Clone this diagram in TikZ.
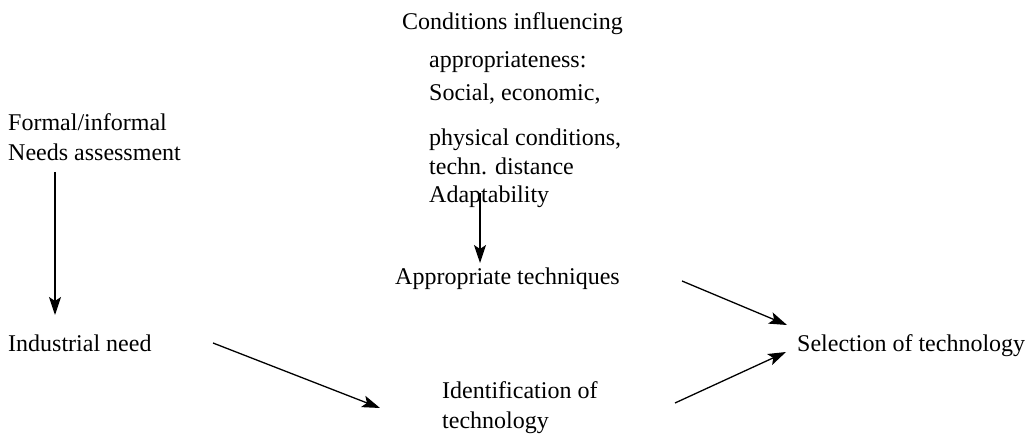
\documentclass[tikz,border=0pt]{standalone}
\usepackage{fontspec}
\setmainfont{Liberation Serif}
\usetikzlibrary{arrows.meta,calc}
\tikzset{
  lbl/.style={anchor=base west, inner sep=0pt, font=\fontsize{24}{28}\selectfont},
  arr/.style={line width=1.3pt, -{Stealth[length=18pt,width=12pt,inset=4pt]}}
}
\begin{document}
\begin{tikzpicture}[x=1pt,y=-1pt]
\useasboundingbox (0,0) rectangle (1032,435);
% left column
\node[lbl] (fi) at (8,131) {Formal/informal};
\node[lbl] (na) at (8,161) {Needs assessment};
\node[lbl] (ind) at (8,351) {Industrial need};
% conditions block
\node[lbl] (c0) at (402,30) {Conditions influencing};
\node[lbl] (c1) at (429,68) {appropriateness:};
\node[lbl] (c2) at (429,101) {Social, economic,};
\node[lbl] (c3) at (429,146) {physical conditions,};
\node[lbl] (c4) at (429,175) {techn. distance};
\node[lbl] (c5) at (429,203) {Adaptability};
\node[lbl] (apt) at (395,285) {Appropriate techniques};
\node[lbl] (id1) at (442,398) {Identification of};
\node[lbl] (id2) at (442,428) {technology};
\node[lbl] (sel) at (797,351) {Selection of technology};
% connector ends
\coordinate (naS) at ($(na.base west)+(47,11)$);
\coordinate (indN) at ($(ind.base west)+(47,-36)$);
\coordinate (c5S) at ($(c5.base west)+(51,-10)$);
\coordinate (aptN) at ($(apt.base west)+(85,-22)$);
\coordinate (indE) at ($(ind.base west)+(205,-8)$);
\coordinate (idW) at ($(id1.base west)+(-62,10)$);
\coordinate (aptE) at ($(apt.base west)+(287,-4)$);
\coordinate (selW1) at ($(sel.base west)+(-10,-26)$);
\coordinate (idE) at ($(id1.base west)+(233,5)$);
\coordinate (selW2) at ($(sel.base west)+(-11,1)$);
\draw[arr] (naS) -- (indN);
\draw[arr] (c5S) -- (aptN);
\draw[arr] (indE) -- (idW);
\draw[arr] (aptE) -- (selW1);
\draw[arr] (idE) -- (selW2);
\end{tikzpicture}
\end{document}
